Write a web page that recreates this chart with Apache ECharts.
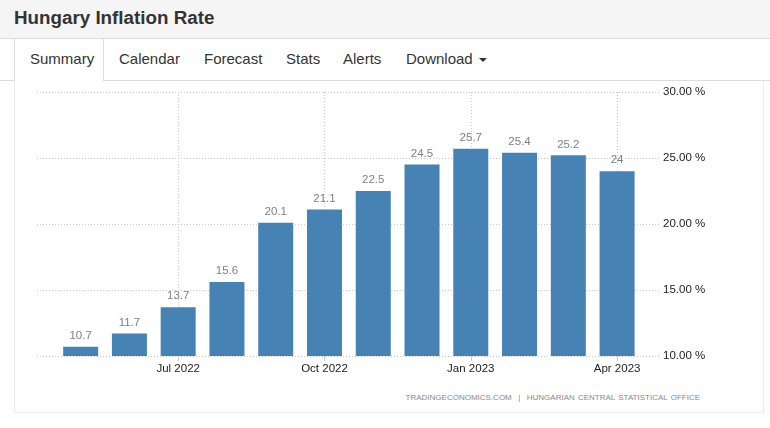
<!DOCTYPE html>
<html>
<head>
<meta charset="utf-8">
<script src="https://cdn.jsdelivr.net/npm/echarts@6/dist/echarts.min.js"></script>
<style>
html,body{margin:0;padding:0;width:770px;height:428px;overflow:hidden;background:#fff;font-family:Arial,"Liberation Sans",sans-serif;}
#titlebar{position:absolute;left:0;top:0;width:770px;height:38px;background:#f5f5f5;border-bottom:1px solid #dcdcdc;}
#titlebar h1{margin:0;position:absolute;left:14px;top:7px;font-size:18.8px;line-height:21px;font-weight:bold;color:#333;}
#tabline{position:absolute;left:0;top:80px;width:770px;height:0;border-top:1px solid #dcdcdc;}
#activetab{position:absolute;left:14px;top:39px;width:88px;height:42px;background:#fff;border-left:1px solid #dcdcdc;border-right:1px solid #dcdcdc;}
.tab{position:absolute;top:50px;font-size:15px;line-height:18px;color:#333;white-space:nowrap;}
.caret{display:inline-block;width:0;height:0;margin-left:6px;vertical-align:middle;border-top:4px solid #333;border-left:4px solid transparent;border-right:4px solid transparent;}
#panel{position:absolute;left:14px;top:81px;width:748px;height:331px;border-left:1px solid #ececec;border-right:1px solid #ececec;border-bottom:1px solid #ececec;}
#chart{position:absolute;left:0;top:0;width:770px;height:428px;}
#source{position:absolute;right:70px;top:393px;font-size:8px;letter-spacing:0;word-spacing:1px;color:#8a8a8a;white-space:nowrap;}
</style>
</head>
<body>
<div id="titlebar"><h1>Hungary Inflation Rate</h1></div>
<div id="tabline"></div>
<div id="activetab"></div>
<div id="panel"></div>
<div class="tab" style="left:30px">Summary</div>
<div class="tab" style="left:119px">Calendar</div>
<div class="tab" style="left:204px">Forecast</div>
<div class="tab" style="left:286px">Stats</div>
<div class="tab" style="left:343px">Alerts</div>
<div class="tab" style="left:406px">Download<span class="caret"></span></div>
<div id="source">TRADINGECONOMICS.COM &nbsp;|&nbsp; HUNGARIAN CENTRAL STATISTICAL OFFICE</div>
<div id="chart"></div>
<script>
const months = ['May 2022','Jun 2022','Jul 2022','Aug 2022','Sep 2022','Oct 2022','Nov 2022','Dec 2022','Jan 2023','Feb 2023','Mar 2023','Apr 2023'];
const inflation = [10.7, 11.7, 13.7, 15.6, 20.1, 21.1, 22.5, 24.5, 25.7, 25.4, 25.2, 24];
const xTickLabels = ['Jul 2022','Oct 2022','Jan 2023','Apr 2023'];
const yMin = 10, yMax = 30, yStep = 5;

const xTickIdx = xTickLabels.map(l => months.indexOf(l));
const barData = inflation.map((v, i) => [i, v]);

const chart = echarts.init(document.getElementById('chart'), null, {renderer: 'canvas'});
chart.setOption({
  animation: false,
  backgroundColor: 'transparent',
  grid: {left: 37, right: 110, top: 92, bottom: 72},
  xAxis: {
    type: 'value',
    min: -0.895,
    max: 11.88,
    axisLine: {show: false},
    axisTick: {show: true, customValues: xTickIdx, length: 5, lineStyle: {color: '#ccc'}},
    axisLabel: {customValues: xTickIdx, formatter: v => months[Math.round(v)], color: '#222', fontSize: 11.5, margin: 7, fontFamily: 'Arial'},
    splitLine: {show: true, lineStyle: {type: [1, 2], color: '#c8c8c8', width: 1}}
  },
  yAxis: {
    type: 'value',
    position: 'right',
    min: yMin,
    max: yMax,
    interval: yStep,
    axisLine: {show: false},
    axisTick: {show: false},
    axisLabel: {formatter: v => v.toFixed(2) + ' %', margin: 3, color: '#222', fontSize: 11.5, fontFamily: 'Arial'},
    splitLine: {show: true, lineStyle: {type: [1, 2], color: '#c8c8c8', width: 1}}
  },
  series: [{
    type: 'bar',
    data: barData,
    barWidth: 35,
    itemStyle: {color: '#4682b4'},
    label: {show: true, position: 'top', distance: 5, color: '#808080', fontSize: 11.5, fontFamily: 'Arial', formatter: p => String(p.value[1])}
  }]
});
</script>
</body>
</html>
